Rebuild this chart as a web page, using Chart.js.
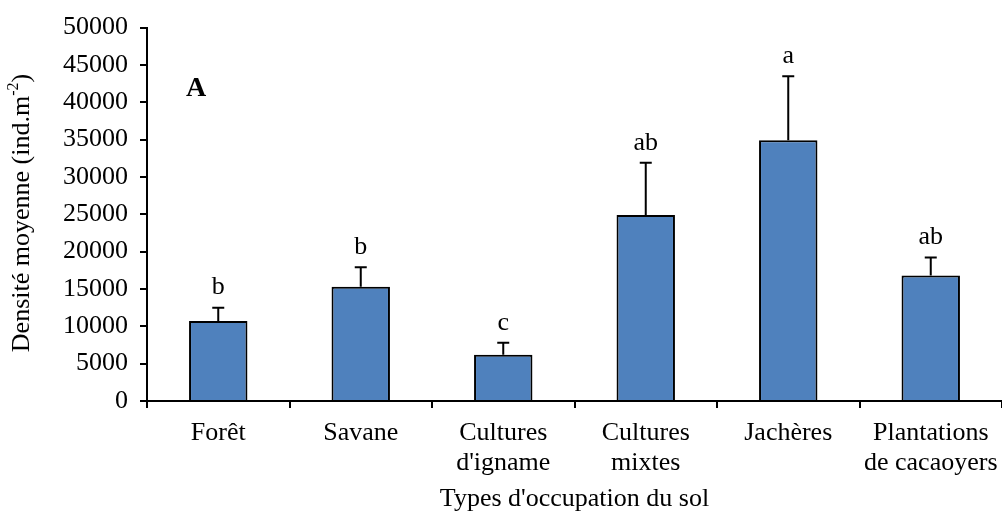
<!DOCTYPE html>
<html>
<head>
    <title>Densité moyenne</title>
    <script src="https://cdn.jsdelivr.net/npm/chart.js"></script>
    <style>
        body { margin: 0; background: white; }
    </style>
</head>
<body>
    <canvas id="densityChart" width="1002" height="515"></canvas>

    <script>
        const categories = [
            ['Forêt'],
            ['Savane'],
            ['Cultures', "d'igname"],
            ['Cultures', 'mixtes'],
            ['Jachères'],
            ['Plantations', 'de cacaoyers']
        ];
        const meanDensity = [10700, 15300, 6200, 24900, 34900, 16800];
        const errorUp = [1800, 2600, 1600, 7000, 8600, 2400];
        const letters = ['b', 'b', 'c', 'ab', 'a', 'ab'];
        const yTicks = [0, 5000, 10000, 15000, 20000, 25000, 30000, 35000, 40000, 45000, 50000];

        const serif = "'Liberation Serif', 'Times New Roman', serif";

        // error bars, letters, panel mark and y title
        const extras = {
            id: 'extras',
            afterDatasetsDraw(chart) {
                const c = chart.ctx;
                const x = chart.scales.x, y = chart.scales.y;
                c.save();
                c.strokeStyle = '#000';
                c.lineWidth = 2;
                c.fillStyle = '#000';
                c.font = '26px ' + serif;
                c.textAlign = 'center';
                c.textBaseline = 'middle';
                meanDensity.forEach((v, i) => {
                    const px = x.getPixelForValue(i);
                    const top = y.getPixelForValue(v);
                    const cap = y.getPixelForValue(v + errorUp[i]);
                    c.beginPath();
                    c.moveTo(px, top);
                    c.lineTo(px, cap);
                    c.moveTo(px - 6, cap);
                    c.lineTo(px + 6, cap);
                    c.stroke();
                    c.fillText(letters[i], px, cap - 20);
                });

                c.font = 'bold 28px ' + serif;
                c.fillText('A', 196, 89);

                // y axis title with superscript
                c.translate(22, 213);
                c.rotate(-Math.PI / 2);
                const main = 'Densité moyenne (ind.m';
                const sup = '-2';
                const end = ')';
                c.font = '26px ' + serif;
                const w1 = c.measureText(main).width;
                const w3 = c.measureText(end).width;
                c.font = '16px ' + serif;
                const w2 = c.measureText(sup).width;
                const total = w1 + w2 + w3;
                c.textAlign = 'left';
                c.font = '26px ' + serif;
                c.fillText(main, -total / 2, 0);
                c.font = '16px ' + serif;
                c.fillText(sup, -total / 2 + w1, -8);
                c.font = '26px ' + serif;
                c.fillText(end, -total / 2 + w1 + w2, 0);
                c.restore();
            }
        };

        const ctx = document.getElementById('densityChart').getContext('2d');
        const chart = new Chart(ctx, {
            type: 'bar',
            data: {
                labels: categories,
                datasets: [{
                    data: meanDensity,
                    backgroundColor: '#4F81BD',
                    borderColor: '#000',
                    borderWidth: 2,
                    barPercentage: 0.41,
                    categoryPercentage: 1
                }]
            },
            options: {
                responsive: false,
                animation: false,
                devicePixelRatio: 1,
                layout: { padding: { top: 25, right: 0, left: 0, bottom: 0 } },
                plugins: {
                    legend: { display: false },
                    tooltip: { enabled: false }
                },
                scales: {
                    x: {
                        grid: {
                            display: true,
                            drawOnChartArea: false,
                            drawTicks: true,
                            tickLength: 7,
                            color: '#000',
                            lineWidth: 2,
                            offset: true
                        },
                        border: { color: '#000', width: 2 },
                        ticks: {
                            color: '#000',
                            font: { family: serif, size: 26, lineHeight: 1.15 },
                            maxRotation: 0,
                            autoSkip: false,
                            padding: 10
                        },
                        title: {
                            display: true,
                            text: "Types d'occupation du sol",
                            color: '#000',
                            font: { family: serif, size: 26 },
                            padding: { top: 4, bottom: 0 }
                        },
                        afterFit(scale) {
                            scale.height = 114;
                            scale.paddingRight = 0;
                        }
                    },
                    y: {
                        min: 0,
                        max: 50000,
                        afterBuildTicks(scale) {
                            scale.ticks = yTicks.map(v => ({ value: v }));
                        },
                        grid: {
                            display: true,
                            drawOnChartArea: false,
                            drawTicks: true,
                            tickLength: 7,
                            color: '#000',
                            lineWidth: 2
                        },
                        border: { color: '#000', width: 2 },
                        ticks: {
                            color: '#000',
                            font: { family: serif, size: 26 },
                            padding: 12,
                            callback: v => String(v)
                        },
                        afterFit(scale) { scale.width = 147; }
                    }
                }
            },
            plugins: [extras]
        });
    </script>
</body>
</html>
